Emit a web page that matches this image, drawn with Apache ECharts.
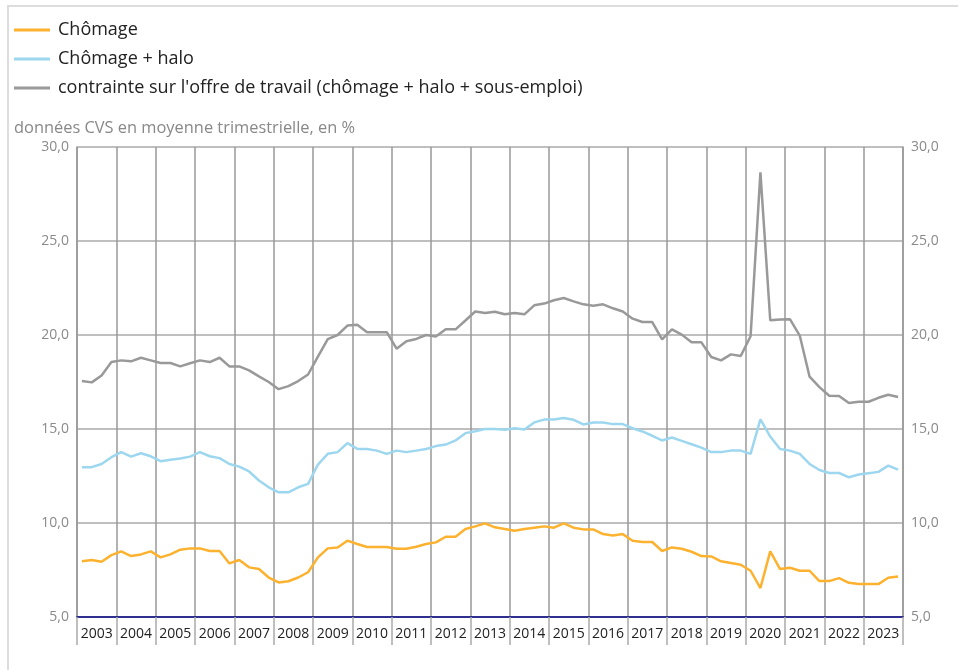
<!DOCTYPE html>
<html>
<head>
<meta charset="utf-8">
<script src="https://cdn.jsdelivr.net/npm/echarts@6/dist/echarts.min.js"></script>
<style>
html,body{margin:0;padding:0;background:#fff;}
#chart{width:958px;height:670px;}
</style>
</head>
<body>
<div id="chart"></div>
<script>
var years = ['2003','2004','2005','2006','2007','2008','2009','2010','2011','2012','2013','2014','2015','2016','2017','2018','2019','2020','2021','2022','2023'];
var quarters = [];
years.forEach(function(y){ ['T1','T2','T3','T4'].forEach(function(q){ quarters.push(y + q); }); });

var chomage = [
7.96,8.03,7.94,8.29, 8.49,8.24,8.33,8.49, 8.17,8.33,8.58,8.65, 8.65,8.51,8.51,7.85,
8.03,7.64,7.55,7.10, 6.84,6.90,7.10,7.38, 8.17,8.65,8.70,9.06, 8.88,8.72,8.72,8.72,
8.63,8.63,8.74,8.88, 8.97,9.27,9.27,9.68, 9.82,9.98,9.77,9.68, 9.59,9.68,9.75,9.82,
9.75,9.98,9.75,9.66, 9.66,9.41,9.34,9.41, 9.06,8.99,8.99,8.51, 8.70,8.63,8.47,8.24,
8.22,7.96,7.87,7.78, 7.46,6.54,8.49,7.55, 7.62,7.46,7.46,6.91, 6.91,7.07,6.82,6.75,
6.75,6.75,7.09,7.16
];
var chomageHalo = [
12.97,12.97,13.14,13.50, 13.77,13.53,13.71,13.55, 13.29,13.36,13.43,13.53, 13.77,13.55,13.45,13.14,
13.00,12.74,12.26,11.90, 11.63,11.63,11.90,12.08, 13.11,13.68,13.77,14.25, 13.94,13.94,13.85,13.68,
13.85,13.77,13.85,13.94, 14.09,14.17,14.39,14.78, 14.88,15.00,15.00,14.96, 15.04,14.97,15.35,15.50,
15.50,15.58,15.49,15.24, 15.35,15.35,15.26,15.26, 15.04,14.87,14.64,14.39, 14.55,14.37,14.19,14.01,
13.77,13.77,13.85,13.85, 13.68,15.51,14.60,13.94, 13.85,13.68,13.14,12.82, 12.66,12.66,12.43,12.58,
12.65,12.72,13.05,12.84
];
var contrainte = [
17.55,17.48,17.85,18.56, 18.65,18.60,18.79,18.65, 18.51,18.51,18.33,18.50, 18.65,18.56,18.79,18.33,
18.33,18.12,17.80,17.50, 17.12,17.28,17.55,17.90, 18.85,19.78,20.00,20.50, 20.55,20.15,20.15,20.15,
19.27,19.67,19.79,20.00, 19.92,20.30,20.30,20.77, 21.25,21.17,21.24,21.10, 21.17,21.10,21.58,21.67,
21.85,21.97,21.79,21.63, 21.56,21.63,21.42,21.25, 20.87,20.69,20.69,19.77, 20.30,20.02,19.61,19.61,
18.83,18.65,18.97,18.88, 19.93,28.65,20.78,20.83, 20.84,19.97,17.78,17.23, 16.77,16.75,16.38,16.45,
16.45,16.66,16.82,16.70
];
var yTicks = {min:5, max:30, interval:5};
var seriesNames = ['Chômage','Chômage + halo',"contrainte sur l'offre de travail (chômage + halo + sous-emploi)"];
var colors = ['#FDB22F','#9DD7EF','#999999'];

var chart = echarts.init(document.getElementById('chart'));
var FONT = 'Open Sans';
function fmt(v){ return v.toFixed(1).replace('.', ','); }
var yBase = {
  type:'value', min:yTicks.min, max:yTicks.max, interval:yTicks.interval,
  axisLine:{show:true, lineStyle:{color:'#9a9a9a', width:1.5}},
  axisTick:{show:false},
  splitLine:{show:true, lineStyle:{color:'#aaaaaa', width:1.5}},
  axisLabel:{color:'#8a8a8a', fontSize:14, fontFamily:FONT, formatter:fmt, margin:8}
};
chart.setOption({
  animation:false,
  textStyle:{fontFamily:FONT},
  color:colors,
  graphic:[{type:'rect', shape:{x:8,y:6,width:1000,height:700}, style:{fill:'none', stroke:'#dddddd', lineWidth:2}, silent:true}],
  title:{text:'données CVS en moyenne trimestrielle, en %', left:9, top:115,
    textStyle:{color:'#888888', fontSize:16.4, fontWeight:'normal', fontFamily:FONT}},
  legend:{orient:'vertical', left:14, top:21, padding:0, itemWidth:36, itemHeight:3, itemGap:11, icon:'rect',
    textStyle:{color:'#222', fontSize:18, fontFamily:FONT, padding:[0,0,0,3]},
    data:seriesNames},
  grid:{left:77, right:55, top:147, bottom:53, containLabel:false},
  xAxis:[{
    type:'category', data:years, boundaryGap:true, position:'bottom',
    axisLine:{show:true, lineStyle:{color:'#000080', width:1.5}},
    axisTick:{show:true, interval:0, length:28, alignWithLabel:false, lineStyle:{color:'#aaaaaa', width:1.5}},
    splitLine:{show:true, interval:0, lineStyle:{color:'#999999', width:1.5}},
    axisLabel:{interval:0, color:'#222', fontSize:14, fontFamily:FONT, margin:10}
  },{
    type:'category', data:quarters, boundaryGap:true, show:false, position:'bottom'
  }],
  yAxis:[Object.assign({position:'left'}, yBase), Object.assign({position:'right'}, yBase, {splitLine:{show:false}})],
  series:[
    {name:seriesNames[0], type:'line', xAxisIndex:1, yAxisIndex:0, data:chomage, symbol:'none', lineStyle:{width:2.5, color:colors[0]}, itemStyle:{color:colors[0]}, z:5},
    {name:seriesNames[1], type:'line', xAxisIndex:1, yAxisIndex:0, data:chomageHalo, symbol:'none', lineStyle:{width:2.5, color:colors[1]}, itemStyle:{color:colors[1]}, z:4},
    {name:seriesNames[2], type:'line', xAxisIndex:1, yAxisIndex:0, data:contrainte, symbol:'none', lineStyle:{width:2.5, color:colors[2]}, itemStyle:{color:colors[2]}, z:3}
  ]
});
</script>
</body>
</html>
